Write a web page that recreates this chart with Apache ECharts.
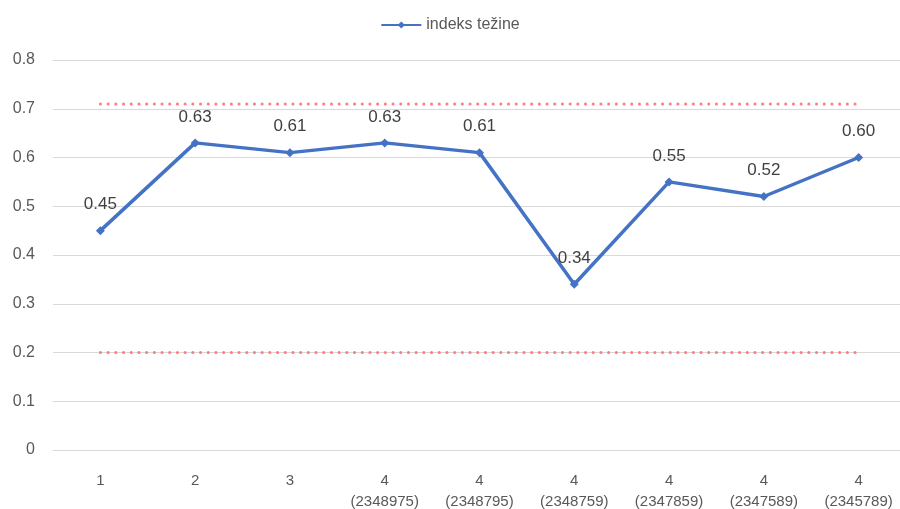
<!DOCTYPE html>
<html>
<head>
<meta charset="utf-8">
<script src="https://cdn.jsdelivr.net/npm/echarts@6/dist/echarts.min.js"></script>
<style>
  html, body { margin: 0; padding: 0; background: #fff; }
  #chart { width: 900px; height: 509px; }
</style>
</head>
<body>
<div id="chart"></div>
<script>
// podaci
const categories = ['1', '2', '3', '4\n(2348975)', '4\n(2348795)', '4\n(2348759)', '4\n(2347859)', '4\n(2347589)', '4\n(2345789)'];
const indeks = [0.45, 0.63, 0.61, 0.63, 0.61, 0.34, 0.55, 0.52, 0.60];
const upperLimit = [0.71, 0.71, 0.71, 0.71, 0.71, 0.71, 0.71, 0.71, 0.71];
const lowerLimit = [0.20, 0.20, 0.20, 0.20, 0.20, 0.20, 0.20, 0.20, 0.20];

const font = 'Liberation Sans, Arial, sans-serif';
const chart = echarts.init(document.getElementById('chart'));

chart.setOption({
  animation: false,
  textStyle: { fontFamily: font },
  legend: {
    top: 12,
    left: 'center',
    data: ['indeks težine'],
    itemWidth: 40,
    itemHeight: 9,
    itemGap: 4,
    textStyle: { color: '#595959', fontSize: 16, fontFamily: font }
  },
  grid: { left: 53, top: 60, width: 853, height: 390, outerBoundsMode: 'none' },
  xAxis: {
    type: 'category',
    data: categories,
    axisLine: { lineStyle: { color: '#d9d9d9' } },
    axisTick: { show: false },
    axisLabel: { color: '#595959', fontSize: 15, lineHeight: 21, margin: 20, fontFamily: font }
  },
  yAxis: {
    type: 'value',
    min: 0,
    max: 0.8,
    interval: 0.1,
    axisLine: { show: false },
    axisTick: { show: false },
    axisLabel: {
      color: '#595959', fontSize: 16, margin: 18, fontFamily: font,
      formatter: v => (v === 0 ? '0' : v.toFixed(1))
    },
    splitLine: { lineStyle: { color: '#d9d9d9' } }
  },
  series: [
    {
      name: 'indeks težine',
      type: 'line',
      data: indeks,
      symbol: 'diamond',
      symbolSize: 9,
      z: 3,
      lineStyle: { color: '#4472c4', width: 3.5 },
      itemStyle: { color: '#4472c4' },
      label: {
        show: true,
        position: 'top',
        distance: 13,
        color: '#404040',
        fontSize: 17,
        fontFamily: font,
        formatter: p => p.value.toFixed(2)
      }
    },
    {
      name: 'gornja granica',
      type: 'line',
      data: upperLimit,
      symbol: 'none',
      silent: true,
      lineStyle: { color: '#ff7c80', width: 3, type: [0.1, 7.6], cap: 'round' }
    },
    {
      name: 'donja granica',
      type: 'line',
      data: lowerLimit,
      symbol: 'none',
      silent: true,
      lineStyle: { color: '#ff7c80', width: 3, type: [0.1, 7.6], cap: 'round' }
    }
  ]
});
</script>
</body>
</html>
